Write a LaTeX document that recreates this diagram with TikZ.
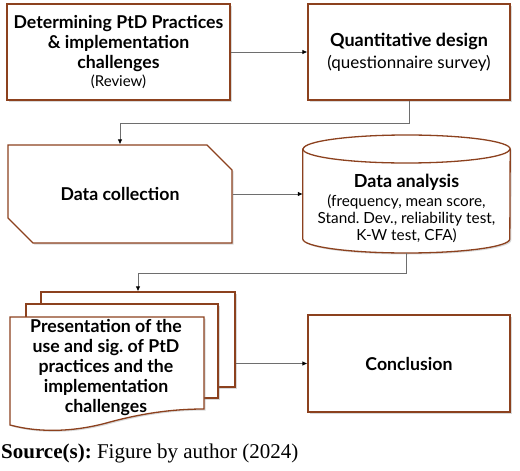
\documentclass[tikz,border=0pt]{standalone}
\usepackage{fontspec}
\setmainfont{Liberation Serif}
\newfontfamily\boxfont{Lato}
\usepackage{tikz}
\usetikzlibrary{arrows.meta}
\usetikzlibrary{shapes.misc}
\usetikzlibrary{shadows}

\definecolor{boxbrown}{RGB}{140,65,30}
\definecolor{linegray}{RGB}{110,110,110}
\frenchspacing

\begin{document}
\begin{tikzpicture}[
  x=1pt, y=-1pt,
  process box/.style={draw=boxbrown, line width=1.3pt, fill=white, rectangle, align=center,
    font=\boxfont\fontsize{17.7}{20}\selectfont\bfseries,
    drop shadow={opacity=0.3, shadow xshift=1.5pt, shadow yshift=-1.5pt}},
  collect box/.style={process box, chamfered rectangle, chamfered rectangle corners={north east, south west},
    chamfered rectangle xsep=16pt, chamfered rectangle ysep=15pt},
  doc sheet/.style={draw=boxbrown, line width=1.3pt, fill=white,
    drop shadow={opacity=0.3, shadow xshift=1.5pt, shadow yshift=-1.5pt}},
  box text/.style={align=center, font=\boxfont\fontsize{17.7}{20}\selectfont\bfseries},
  flow arrow/.style={draw=linegray, line width=0.8pt, -{Latex[length=5pt,width=4.5pt,black]}}
]
\useasboundingbox (0,0) rectangle (520,471);

%% TOP ROW
\node[process box, minimum width=223pt, minimum height=96pt] (review) at (118.5,52)
  {Determining PtD Practices\\ \& implementation\\ challenges\\[-2pt]
   {\mdseries\fontsize{15}{17}\selectfont (Review)}};
\node[process box, minimum width=202pt, minimum height=96pt] (design) at (409,52)
  {\fontsize{18}{20}\selectfont Quantitative design\\[2pt]
   {\mdseries\fontsize{17}{20}\selectfont (questionnaire survey)}};

%% MIDDLE ROW
\node[collect box, minimum width=224pt, minimum height=98pt] (collect) at (120,194) {Data collection};

% Data store (cylinder drawn round the node's box)
\node[minimum width=207pt, minimum height=118pt, inner sep=0pt] (analysis) at (406.5,194) {};
\draw[doc sheet] (analysis.west |- 0,149) -- (analysis.west |- 0,239)
  arc[start angle=180, end angle=360, x radius=103.5pt, y radius=14pt]
  -- (analysis.east |- 0,149)
  arc[start angle=0, end angle=180, x radius=103.5pt, y radius=14pt] -- cycle;
\draw[boxbrown, line width=1.3pt] (analysis.west |- 0,149)
  arc[start angle=180, end angle=360, x radius=103.5pt, y radius=14pt];
\node[box text, font=\boxfont\fontsize{15.3}{17}\selectfont] (analysistext) at ([yshift=-14pt]analysis.center)
  {{\bfseries\fontsize{18}{20}\selectfont Data analysis}\\[2pt]
   (frequency, mean score,\\ Stand. Dev., reliability test,\\ K-W test, CFA)};

%% BOTTOM ROW
% Stacked documents (back to front)
\node[doc sheet, rectangle, minimum width=194pt, minimum height=95pt] (docback) at (138,339.5) {};
\node[doc sheet, rectangle, minimum width=192pt, minimum height=94pt] (docmid) at (122,351) {};
\draw[doc sheet] (10,317) -- (204,317) -- (204,409)
  .. controls (170,409) and (140,414) .. (110,422)
  .. controls (75,432) and (40,433) .. (10,425) -- cycle;
\node[box text] (present) at (106,368)
  {Presentation of the\\ use and sig. of PtD\\ practices and the\\ implementation\\ challenges};

\node[process box, minimum width=202pt, minimum height=97pt] (concl) at (409,363.5) {Conclusion};

%% CONNECTORS
\draw[flow arrow] (review.east |- design.west) -- (design.west);
\draw[flow arrow] (design.south) -- ++(0,23) -| (collect.north);
\draw[flow arrow] (collect.east) -- (collect.east -| analysis.west);
\draw[flow arrow] (analysis.south) -- ++(0,20) -| (docback.north);
\draw[flow arrow] (docback.east |- concl.west) -- (concl.west);

%% SOURCE
\node[anchor=base west, inner sep=0pt, font=\fontsize{21}{24}\selectfont] (source) at (1,458)
  {\textbf{Source(s):}\ Figure by author (2024)};

\end{tikzpicture}
\end{document}
